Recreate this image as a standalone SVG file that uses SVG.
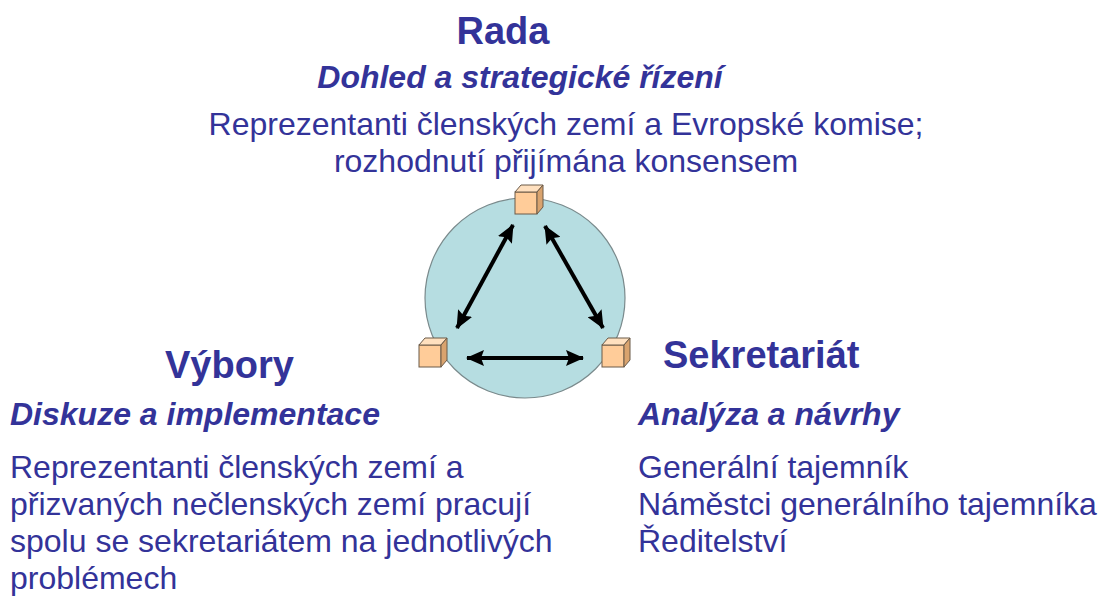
<svg xmlns="http://www.w3.org/2000/svg" width="1101" height="601" viewBox="0 0 1101 601">
<style>
  text { font-family: "Liberation Sans", Arial, sans-serif; fill: #333399; }
  .title { font-size: 38px; font-weight: bold; }
  .sub { font-size: 32px; font-weight: bold; font-style: italic; }
  .body { font-size: 32px; }
  .front { fill: #ffcc99; stroke: #6b5a48; stroke-width: 1; }
  .top { fill: #ffe0bf; stroke: #6b5a48; stroke-width: 1; }
  .side { fill: #d9a36e; stroke: #6b5a48; stroke-width: 1; }
  .conn { stroke: #000; stroke-width: 4; fill: none; marker-start: url(#ah); marker-end: url(#ah); }
</style>
<defs>
  <marker id="ah" markerUnits="userSpaceOnUse" markerWidth="18" markerHeight="16" refX="17" refY="8" orient="auto-start-reverse" viewBox="0 0 18 16">
    <path d="M0,0 L18,8 L0,16 L3,8 z" fill="#000"/>
  </marker>
  <g id="cube">
    <rect class="front" x="0" y="0" width="22" height="22"/>
    <path class="top" d="M0,0 L6,-7 L28,-7 L22,0 z"/>
    <path class="side" d="M22,0 L28,-7 L28,15 L22,22 z"/>
  </g>
</defs>
<rect width="1101" height="601" fill="#fff"/>
<circle cx="525" cy="298" r="100" fill="#b6dde1" stroke="#7a8a8c" stroke-width="1.2"/>

<g id="connectors">
  <line class="conn" x1="513" y1="225" x2="457" y2="328"/>
  <line class="conn" x1="545" y1="226" x2="603" y2="328"/>
  <line class="conn" x1="467" y1="358" x2="583" y2="358"/>
</g>

<g id="rada">
  <use href="#cube" x="515" y="192"/>
  <text class="title" x="503" y="44" text-anchor="middle">Rada</text>
  <text class="sub" x="520" y="88" text-anchor="middle">Dohled a strategické řízení</text>
  <text class="body" x="566" y="135" text-anchor="middle">Reprezentanti členských zemí a Evropské komise;</text>
  <text class="body" x="566" y="172" text-anchor="middle">rozhodnutí přijímána konsensem</text>
</g>

<g id="vybory">
  <use href="#cube" x="419" y="345"/>
  <text class="title" x="165" y="378">Výbory</text>
  <text class="sub" x="10" y="425">Diskuze a implementace</text>
  <text class="body" x="10" y="478">Reprezentanti členských zemí a</text>
  <text class="body" x="10" y="515">přizvaných nečlenských zemí pracují</text>
  <text class="body" x="10" y="552">spolu se sekretariátem na jednotlivých</text>
  <text class="body" x="10" y="589">problémech</text>
</g>

<g id="sekretariat">
  <use href="#cube" x="602" y="345"/>
  <text class="title" x="663" y="368">Sekretariát</text>
  <text class="sub" x="638" y="425">Analýza a návrhy</text>
  <text class="body" x="638" y="478">Generální tajemník</text>
  <text class="body" x="638" y="515">Náměstci generálního tajemníka</text>
  <text class="body" x="638" y="552">Ředitelství</text>
</g>
</svg>
